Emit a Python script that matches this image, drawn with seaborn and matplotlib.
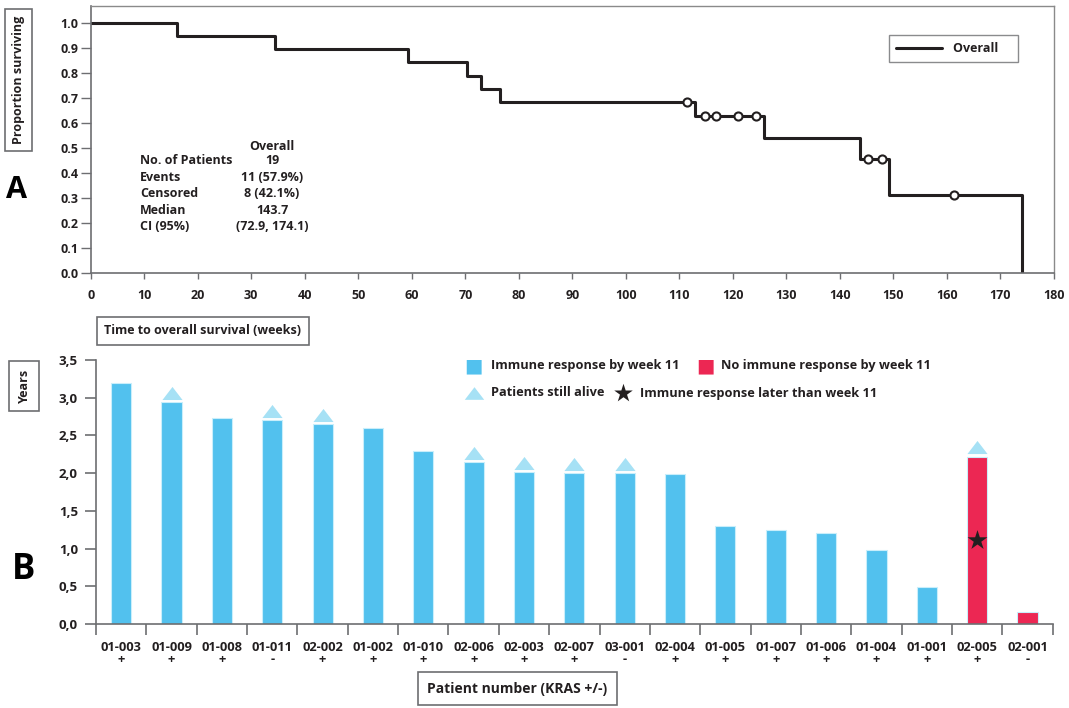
import numpy as np
import pandas as pd
import seaborn as sns
import matplotlib.pyplot as plt

# ---- panel A: Kaplan-Meier overall survival ----
km_weeks = [0, 16.2, 34.5, 59.2, 70.4, 72.9, 76.5, 113.0, 125.9, 143.8, 149.2, 174.1]
km_surv = [1.0, 0.947, 0.895, 0.842, 0.789, 0.737, 0.684, 0.627, 0.540, 0.455, 0.310, 0.0]
cens_weeks = [111.4, 114.8, 116.8, 120.9, 124.3, 145.3, 147.8, 161.4]
cens_surv = [0.684, 0.627, 0.627, 0.627, 0.627, 0.455, 0.455, 0.310]

table_rows = ['No. of Patients', 'Events', 'Censored', 'Median', 'CI (95%)']
table_vals = ['19', '11 (57.9%)', '8 (42.1%)', '143.7', '(72.9, 174.1)']

# ---- panel B: survival per patient (years) ----
patients = ['01-003', '01-009', '01-008', '01-011', '02-002', '01-002', '01-010',
            '02-006', '02-003', '02-007', '03-001', '02-004', '01-005', '01-007',
            '01-006', '01-004', '01-001', '02-005', '02-001']
kras = ['+', '+', '+', '-', '+', '+', '+', '+', '+', '+', '-', '+', '+', '+',
        '+', '+', '+', '+', '-']
years = [3.19, 2.94, 2.73, 2.70, 2.65, 2.60, 2.29, 2.15, 2.01, 2.00, 2.00, 1.99,
         1.30, 1.24, 1.20, 0.98, 0.49, 2.22, 0.16]
responder = [True] * 17 + [False, False]
alive = ['01-009', '01-011', '02-002', '02-006', '02-003', '02-007', '03-001', '02-005']
late_response = ['02-005']
star_level = 1.12

BLUE = '#52c1ee'
RED = '#ec2753'
LIGHT = '#a6e1f5'
INK = '#231f20'
GREY = '#6d6e71'

sns.set_style('white')
plt.rcParams['font.family'] = ['Open Sans', 'DejaVu Sans']
plt.rcParams['font.weight'] = 'bold'
plt.rcParams['text.color'] = INK
plt.rcParams['axes.labelcolor'] = INK
plt.rcParams['xtick.color'] = GREY
plt.rcParams['ytick.color'] = GREY
plt.rcParams['xtick.labelcolor'] = INK
plt.rcParams['ytick.labelcolor'] = INK

W, H = 1069, 708
fig = plt.figure(figsize=(W / 100, H / 100), dpi=100)


def fx(px):
    return px / W


def fy(py):
    return 1 - py / H


def boxed(px, py, s, rot=0, size=9, pad=0.45):
    fig.text(fx(px), fy(py), s, rotation=rot, ha='center', va='center',
             fontsize=size, fontweight='bold',
             bbox=dict(boxstyle='square,pad=%s' % pad, fc='white', ec=GREY, lw=1.2))


# ===== panel A =====
ax1 = fig.add_axes([fx(90.7), fy(272.7), fx(1054) - fx(90.7), fy(6) - fy(272.7)])
sns.lineplot(x=km_weeks, y=km_surv, drawstyle='steps-post', color=INK, lw=2.2,
             estimator=None, sort=False, ax=ax1, label='Overall\u2002\u2002')
sns.scatterplot(x=cens_weeks, y=cens_surv, marker='o', s=34, facecolor='white',
                edgecolor=INK, linewidth=1.5, zorder=4, ax=ax1, legend=False)
ax1.set_xlim(0, 180)
ax1.set_ylim(0, 1.068)
ax1.set_xticks(np.arange(0, 181, 10))
ax1.set_yticks(np.arange(0, 1.01, 0.1))
ax1.set_yticklabels(['%.1f' % v for v in np.arange(0, 1.01, 0.1)])
ax1.tick_params(axis='x', length=4, width=1, pad=8, labelsize=9, direction='out')
ax1.tick_params(axis='y', length=7, width=1, pad=2, labelsize=9, direction='out')
ax1.tick_params(bottom=True, left=True)
for side in ['left', 'bottom']:
    ax1.spines[side].set_color(GREY)
    ax1.spines[side].set_linewidth(1.2)
for side in ['top', 'right']:
    ax1.spines[side].set_color('#8a8a8a')
    ax1.spines[side].set_linewidth(1)
ax1.set_xlabel('')
ax1.set_ylabel('')

leg = ax1.legend(loc='upper right', bbox_to_anchor=(fx(1018), fy(35)),
                 bbox_transform=fig.transFigure, borderaxespad=0, fancybox=False,
                 frameon=True, fontsize=9, handlelength=3.7, handletextpad=0.9,
                 borderpad=0.55)
leg.get_frame().set_edgecolor(GREY)
leg.get_frame().set_linewidth(1)
for t in leg.get_texts():
    t.set_fontweight('bold')

fig.text(fx(272), fy(146.7), 'Overall', ha='center', va='center', fontsize=9)
for i, (r, v) in enumerate(zip(table_rows, table_vals)):
    py = 161 + i * 16.4
    fig.text(fx(140), fy(py), r, ha='left', va='center', fontsize=9)
    fig.text(fx(272), fy(py), v, ha='center', va='center', fontsize=9)

boxed(18.7, 80, 'Proportion surviving', rot=90, size=9, pad=0.55)
boxed(203, 331, 'Time to overall survival (weeks)', size=9, pad=0.6)
fig.text(fx(16), fy(190), 'A', ha='center', va='center', fontsize=22, fontweight='bold',
         color='black')

# ===== panel B =====
df = pd.DataFrame({'patient': patients, 'years': years,
                   'response': ['yes' if r else 'no' for r in responder]})
ax2 = fig.add_axes([fx(96), fy(624), fx(1052.7) - fx(96), fy(360) - fy(624)])
sns.barplot(data=df, x='patient', y='years', hue='response', order=patients,
            palette={'yes': BLUE, 'no': RED}, dodge=False, width=0.4, saturation=1,
            edgecolor='#c9eefb', linewidth=0.8, legend=False, ax=ax2)
ax2.set_xlim(-0.5, len(patients) - 0.5)
ax2.set_ylim(0, 3.5)

# triangles for patients still alive, star for late responder
tri = [(-1, -0.65), (1, -0.65), (0, 0.65)]
alive_x = [patients.index(p) for p in alive]
alive_y = [years[patients.index(p)] + 0.12 for p in alive]
ax2.scatter(alive_x, alive_y, marker=tri, s=14.5 ** 2, color=LIGHT, lw=0, zorder=4,
            clip_on=False)
star_x = [patients.index(p) for p in late_response]
ax2.scatter(star_x, [star_level] * len(star_x), marker='*', s=15 ** 2, color=INK, lw=0,
            zorder=5)

ax2.set_xticks(range(len(patients)))
ax2.set_xticklabels(['%s\n%s' % (p, k) for p, k in zip(patients, kras)],
                    linespacing=0.95)
ax2.set_xticks(np.arange(-0.5, len(patients), 1), minor=True)
ax2.tick_params(axis='x', which='major', length=0, pad=12, labelsize=9.3)
ax2.tick_params(axis='x', which='minor', length=8, width=1.2, direction='out')
ax2.set_yticks(np.arange(0, 3.51, 0.5))
ax2.set_yticklabels([('%.1f' % v).replace('.', ',') for v in np.arange(0, 3.51, 0.5)])
ax2.tick_params(axis='y', length=8, width=1.2, pad=5, labelsize=9.5, direction='out')
ax2.tick_params(bottom=True, left=True, which='both')
sns.despine(ax=ax2)
for side in ['left', 'bottom']:
    ax2.spines[side].set_color(GREY)
    ax2.spines[side].set_linewidth(1.2)
ax2.set_xlabel('')
ax2.set_ylabel('')

# legend of panel B
fig.text(fx(473.5), fy(365.7), '\u25A0', ha='center', va='center', fontsize=14,
         color=BLUE, family='DejaVu Sans')
fig.text(fx(491), fy(365.7), 'Immune response by week 11', ha='left', va='center',
         fontsize=9.2)
fig.text(fx(705), fy(365.7), '\u25A0', ha='center', va='center', fontsize=14,
         color=RED, family='DejaVu Sans')
fig.text(fx(721), fy(365.7), 'No immune response by week 11', ha='left', va='center',
         fontsize=9.2)
ax2.scatter([fx(474)], [fy(393)], marker=tri, s=14 ** 2, color=LIGHT, lw=0,
            transform=fig.transFigure, clip_on=False)
fig.text(fx(491), fy(393), 'Patients still alive', ha='left', va='center', fontsize=9.2)
ax2.scatter([fx(623)], [fy(393)], marker='*', s=14 ** 2, color=INK, lw=0,
            transform=fig.transFigure, clip_on=False)
fig.text(fx(640), fy(393), 'Immune response later than week 11', ha='left',
         va='center', fontsize=9.2)

boxed(24, 386, 'Years', rot=90, size=9, pad=0.65)
boxed(517.5, 688.5, 'Patient number (KRAS +/-)', size=10, pad=0.65)
fig.text(fx(24), fy(570), 'B', ha='center', va='center', fontsize=25, fontweight='bold',
         color='black')

fig.savefig('out.png', dpi=100)
